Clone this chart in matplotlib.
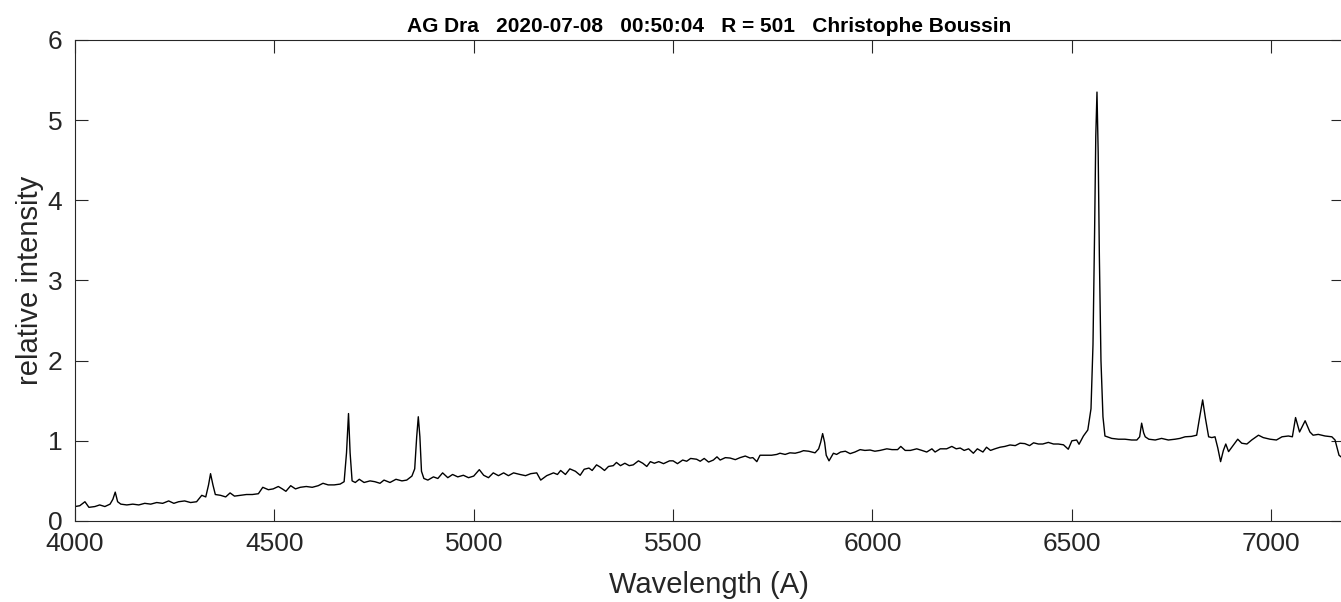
import matplotlib
matplotlib.use("Agg")
import matplotlib.pyplot as plt

# spectrum (wavelength in A, relative intensity)
wavelength = [
    4000, 4012, 4025, 4035, 4050, 4062, 4075, 4088, 4095, 4101, 4107, 4115,
    4130, 4145, 4160, 4175, 4190, 4205, 4220, 4235, 4248, 4260, 4275, 4290,
    4305, 4318, 4328, 4335, 4340, 4346, 4352, 4365, 4378, 4389, 4400, 4415,
    4430, 4445, 4460, 4471, 4485, 4497, 4510, 4520, 4529, 4541, 4553, 4565,
    4580, 4595, 4610, 4622, 4635, 4650, 4665, 4675, 4681, 4686, 4690, 4695,
    4703, 4713, 4725, 4740, 4752, 4765, 4775, 4790, 4805, 4820, 4832, 4845,
    4852, 4857, 4861, 4865, 4869, 4875, 4885, 4899, 4910, 4922, 4935, 4947,
    4960, 4974, 4987, 5000, 5014, 5025, 5037, 5049, 5062, 5075, 5087, 5100,
    5116, 5130, 5143, 5158, 5168, 5183, 5200, 5210, 5218, 5230, 5241, 5255,
    5267, 5277, 5289, 5297, 5308, 5318, 5328, 5338, 5350, 5358, 5368, 5379,
    5390, 5400, 5413, 5424, 5434, 5443, 5453, 5464, 5476, 5491, 5500, 5511,
    5524, 5534, 5544, 5559, 5568, 5578, 5589, 5601, 5610, 5618, 5631, 5643,
    5656, 5668, 5681, 5693, 5700, 5710, 5718, 5735, 5747, 5760, 5768, 5781,
    5793, 5806, 5818, 5827, 5840, 5848, 5856, 5865, 5870, 5875, 5880, 5884,
    5891, 5902, 5910, 5920, 5932, 5944, 5956, 5969, 5981, 5994, 6006, 6019,
    6036, 6049, 6063, 6071, 6082, 6095, 6111, 6124, 6136, 6149, 6157, 6170,
    6186, 6199, 6210, 6220, 6230, 6241, 6253, 6263, 6277, 6286, 6296, 6307,
    6320, 6332, 6345, 6358, 6370, 6382, 6394, 6404, 6416, 6427, 6441, 6454,
    6466, 6479, 6491, 6500, 6512, 6518, 6529, 6540, 6548, 6553, 6557, 6560,
    6563, 6566, 6569, 6573, 6578, 6583, 6600, 6617, 6633, 6650, 6663, 6670,
    6675, 6680, 6684, 6693, 6709, 6725, 6742, 6759, 6771, 6784, 6800, 6813,
    6820, 6828, 6835, 6843, 6851, 6859, 6866, 6873, 6880, 6886, 6893, 6904,
    6916, 6926, 6939, 6951, 6968, 6980, 6997, 7013, 7027, 7043, 7053, 7061,
    7071, 7085, 7097, 7105, 7118, 7135, 7152, 7160, 7170, 7175,
]
intensity = [
    0.18, 0.19, 0.24, 0.17, 0.18, 0.20, 0.18, 0.21, 0.27, 0.36, 0.24, 0.21,
    0.20, 0.21, 0.20, 0.22, 0.21, 0.23, 0.22, 0.25, 0.22, 0.24, 0.25, 0.23,
    0.24, 0.32, 0.30, 0.45, 0.59, 0.45, 0.33, 0.32, 0.30, 0.35, 0.31, 0.32,
    0.33, 0.33, 0.34, 0.42, 0.39, 0.40, 0.43, 0.40, 0.37, 0.44, 0.40, 0.42,
    0.43, 0.42, 0.44, 0.47, 0.45, 0.45, 0.46, 0.49, 0.85, 1.34, 0.85, 0.50,
    0.48, 0.52, 0.48, 0.50, 0.49, 0.47, 0.51, 0.48, 0.52, 0.50, 0.51, 0.56,
    0.65, 1.05, 1.30, 1.05, 0.62, 0.53, 0.51, 0.55, 0.53, 0.60, 0.54, 0.58,
    0.55, 0.57, 0.54, 0.56, 0.64, 0.57, 0.54, 0.60, 0.565, 0.60, 0.565, 0.60,
    0.58, 0.565, 0.59, 0.60, 0.51, 0.565, 0.60, 0.58, 0.63, 0.58, 0.65, 0.62,
    0.57, 0.645, 0.66, 0.63, 0.70, 0.67, 0.63, 0.68, 0.69, 0.73, 0.69, 0.72,
    0.69, 0.70, 0.75, 0.72, 0.68, 0.74, 0.72, 0.74, 0.715, 0.75, 0.75, 0.715,
    0.76, 0.745, 0.78, 0.77, 0.745, 0.78, 0.735, 0.76, 0.80, 0.76, 0.79, 0.785,
    0.765, 0.79, 0.81, 0.785, 0.79, 0.74, 0.82, 0.82, 0.82, 0.83, 0.845, 0.83,
    0.85, 0.845, 0.86, 0.877, 0.87, 0.86, 0.85, 0.90, 0.98, 1.09, 0.98, 0.82,
    0.75, 0.845, 0.83, 0.86, 0.87, 0.84, 0.86, 0.89, 0.88, 0.885, 0.87, 0.88,
    0.90, 0.89, 0.89, 0.93, 0.88, 0.88, 0.90, 0.88, 0.86, 0.90, 0.86, 0.90,
    0.90, 0.93, 0.90, 0.91, 0.88, 0.90, 0.845, 0.90, 0.86, 0.92, 0.88, 0.90,
    0.92, 0.93, 0.948, 0.94, 0.97, 0.965, 0.94, 0.975, 0.96, 0.96, 0.98, 0.96,
    0.96, 0.95, 0.895, 1.00, 1.01, 0.957, 1.06, 1.135, 1.40, 2.20, 3.60, 4.80,
    5.35, 4.60, 3.30, 2.00, 1.30, 1.06, 1.03, 1.02, 1.02, 1.01, 1.01, 1.05,
    1.22, 1.10, 1.05, 1.02, 1.01, 1.03, 1.01, 1.02, 1.03, 1.05, 1.055, 1.07,
    1.28, 1.51, 1.28, 1.05, 1.04, 1.05, 0.91, 0.74, 0.88, 0.96, 0.865, 0.94,
    1.02, 0.97, 0.96, 1.01, 1.07, 1.04, 1.02, 1.01, 1.05, 1.06, 1.05, 1.29,
    1.11, 1.25, 1.11, 1.07, 1.08, 1.06, 1.05, 1.01, 0.82, 0.80,
]

x_ticks = [4000, 4500, 5000, 5500, 6000, 6500, 7000]
y_ticks = [0, 1, 2, 3, 4, 5, 6]

plt.rcParams["font.family"] = ["Liberation Sans", "DejaVu Sans"]
axis_grey = "#262626"

fig = plt.figure(figsize=(13.41, 6.02), dpi=100)
ax = fig.add_axes([0.0559, 0.1346, 0.9456, 0.799])

ax.plot(wavelength, intensity, color="black", linewidth=1.0)

ax.set_xlim(4000, 7180)
ax.set_ylim(0, 6)
ax.set_xticks(x_ticks)
ax.set_yticks(y_ticks)

ax.tick_params(direction="in", length=9, width=0.8, colors=axis_grey,
               labelsize=19, top=True, right=True)
ax.tick_params(axis="x", pad=8)
ax.tick_params(axis="y", pad=9)
for side in ["left", "bottom", "top"]:
    ax.spines[side].set_color(axis_grey)
    ax.spines[side].set_linewidth(0.8)
ax.spines["right"].set_visible(False)

ax.set_xlabel("Wavelength (A)", fontsize=21, color=axis_grey, labelpad=11)
ax.set_ylabel("relative intensity", fontsize=21, color=axis_grey, labelpad=3)
ax.set_title("AG Dra   2020-07-08   00:50:04   R = 501   Christophe Boussin",
             fontsize=15, fontweight="bold", color="black", pad=6)

fig.savefig("out.png", dpi=100)
